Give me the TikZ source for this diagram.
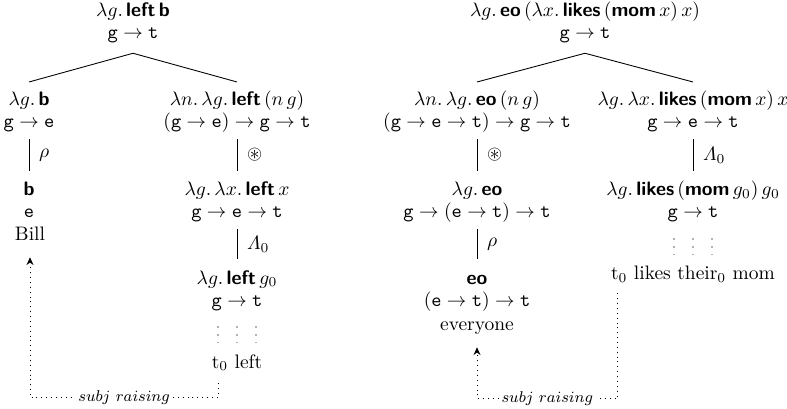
\documentclass[tikz,border=0pt]{standalone}
\usepackage{amsmath,amssymb}
\usetikzlibrary{calc,arrows.meta}
\newcommand{\cn}[1]{\textsf{\bfseries #1}}
\newcommand{\ty}[1]{\texttt{#1}}
\begin{document}
\begin{tikzpicture}[x=0.513pt,y=-0.513pt,
  lbl/.style={inner sep=0pt,text height=7.5pt,text depth=2.5pt,anchor=base},
  edge/.style={line width=0.45pt},
  elab/.style={anchor=west,inner sep=0pt,xshift=5pt},
  dotcol/.style={draw=black!30,line width=0.8pt,dash pattern=on 0.8pt off 3.2pt},
  raise/.style={dotted,line width=0.5pt,-{Stealth[length=4pt,width=3.6pt]}},
  rlab/.style={fill=white,inner sep=1.5pt,font=\footnotesize}]
\useasboundingbox (0,0) rectangle (787,409);

% ---------------- left tree ----------------
\node[lbl] (L0t) at (133,17) {$\lambda g.\,\cn{left}\,\cn{b}$};
\node[lbl] (L0y) at (133,39) {$\ty{g}\to\ty{t}$};
\node[lbl] (L1t) at (29,106) {$\lambda g.\,\cn{b}$};
\node[lbl] (L1y) at (29,128) {$\ty{g}\to\ty{e}$};
\node[lbl] (L2t) at (29,196) {\cn{b}};
\node[lbl] (L2y) at (29,218) {\ty{e}};
\node[lbl] (L2w) at (30,241) {Bill};
\node[lbl] (R1t) at (237,106) {$\lambda n.\,\lambda g.\,\cn{left}\,(n\,g)$};
\node[lbl] (R1y) at (237,128) {$(\ty{g}\to\ty{e})\to\ty{g}\to\ty{t}$};
\node[lbl] (R2t) at (237,196) {$\lambda g.\,\lambda x.\,\cn{left}\,x$};
\node[lbl] (R2y) at (237,218) {$\ty{g}\to\ty{e}\to\ty{t}$};
\node[lbl] (R3t) at (237,284) {$\lambda g.\,\cn{left}\,g_0$};
\node[lbl] (R3y) at (237,306) {$\ty{g}\to\ty{t}$};
\node[lbl] (R4w) at (237,368) {t$_0$ left};

\draw[edge] ($(L0y.south)+(0,9)$) -- ($(L1t.north)+(0,-9)$);
\draw[edge] ($(L0y.south)+(0,9)$) -- ($(R1t.north)+(0,-9)$);
\draw[edge] ($(L1y.south)+(0,6)$) -- node[midway,elab]{$\rho$} ($(L2t.north)+(0,-10)$);
\draw[edge] ($(R1y.south)+(0,6)$) -- node[midway,elab]{$\circledast$} ($(R2t.north)+(0,-10)$);
\draw[edge] ($(R2y.south)+(0,6)$) -- node[midway,elab]{$\varLambda_0$} ($(R3t.north)+(0,-10)$);
\foreach \dx in {-19,0,19}
  \draw[dotcol] ($(R3y.south)+(\dx,15)$) -- ($(R4w.north)+(\dx,-7)$);
\draw[raise] ($(R4w.south west)+(7,10)$) -- ++(0,14)
  -| node[pos=.25,rlab]{$subj\ raising$} ($(L2w.south)+(0,11)$);

% ---------------- right tree ----------------
\node[lbl] (Q0t) at (585,17) {$\lambda g.\,\cn{eo}\,(\lambda x.\,\cn{likes}\,(\cn{mom}\,x)\,x)$};
\node[lbl] (Q0y) at (585,39) {$\ty{g}\to\ty{t}$};
\node[lbl] (Q1t) at (477,106) {$\lambda n.\,\lambda g.\,\cn{eo}\,(n\,g)$};
\node[lbl] (Q1y) at (477,128) {$(\ty{g}\to\ty{e}\to\ty{t})\to\ty{g}\to\ty{t}$};
\node[lbl] (Q2t) at (477,196) {$\lambda g.\,\cn{eo}$};
\node[lbl] (Q2y) at (477,218) {$\ty{g}\to(\ty{e}\to\ty{t})\to\ty{t}$};
\node[lbl] (Q3t) at (477,284) {\cn{eo}};
\node[lbl] (Q3y) at (477,306) {$(\ty{e}\to\ty{t})\to\ty{t}$};
\node[lbl] (Q3w) at (477,330) {everyone};
\node[lbl] (P1t) at (693,106) {$\lambda g.\,\lambda x.\,\cn{likes}\,(\cn{mom}\,x)\,x$};
\node[lbl] (P1y) at (693,128) {$\ty{g}\to\ty{e}\to\ty{t}$};
\node[lbl] (P2t) at (693,196) {$\lambda g.\,\cn{likes}\,(\cn{mom}\,g_0)\,g_0$};
\node[lbl] (P2y) at (693,218) {$\ty{g}\to\ty{t}$};
\node[lbl] (P3w) at (693,280) {t$_0$ likes their$_0$ mom};

\draw[edge] ($(Q0y.south)+(0,9)$) -- ($(Q1t.north)+(0,-9)$);
\draw[edge] ($(Q0y.south)+(0,9)$) -- ($(P1t.north)+(0,-9)$);
\draw[edge] ($(Q1y.south)+(0,6)$) -- node[midway,elab]{$\circledast$} ($(Q2t.north)+(0,-10)$);
\draw[edge] ($(Q2y.south)+(0,6)$) -- node[midway,elab]{$\rho$} ($(Q3t.north)+(0,-10)$);
\draw[edge] ($(P1y.south)+(0,6)$) -- node[midway,elab]{$\varLambda_0$} ($(P2t.north)+(0,-10)$);
\foreach \dx in {-19,0,19}
  \draw[dotcol] ($(P2y.south)+(\dx,15)$) -- ($(P3w.north)+(\dx,-7)$);
\draw[raise] ($(P3w.south west)+(7,8)$) -- ++(0,105)
  -| node[pos=.25,rlab]{$subj\ raising$} ($(Q3w.south)+(0,12)$);
\end{tikzpicture}
\end{document}
